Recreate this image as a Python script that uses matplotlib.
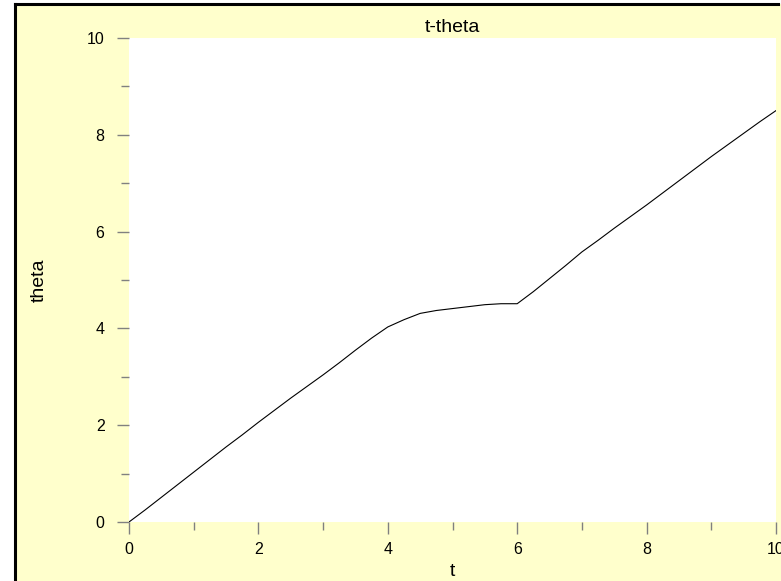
import matplotlib
matplotlib.use("Agg")
import matplotlib.pyplot as plt
from matplotlib.patches import Rectangle
from matplotlib.lines import Line2D
from matplotlib.ticker import MultipleLocator

plt.rcParams['font.family'] = ['Liberation Sans', 'DejaVu Sans']

# time samples and angle values
t = [0.0, 0.25, 0.5, 0.75, 1.0, 1.25, 1.5, 1.75, 2.0, 2.25, 2.5, 2.75, 3.0,
     3.25, 3.5, 3.75, 4.0, 4.25, 4.5, 4.75, 5.0, 5.25, 5.5, 5.75, 6.0,
     6.25, 6.5, 6.75, 7.0, 7.25, 7.5, 7.75, 8.0, 8.25, 8.5, 8.75, 9.0,
     9.25, 9.5, 9.75, 10.0]
theta = [0.0, 0.25, 0.51, 0.77, 1.03, 1.29, 1.55, 1.80, 2.06, 2.31, 2.56, 2.80, 3.04,
         3.29, 3.55, 3.80, 4.03, 4.18, 4.31, 4.37, 4.41, 4.45, 4.49, 4.51, 4.51,
         4.76, 5.03, 5.30, 5.58, 5.82, 6.07, 6.31, 6.55, 6.80, 7.05, 7.30, 7.55,
         7.79, 8.03, 8.27, 8.50]

title = "t-theta"
xlabel = "t"
ylabel = "theta"

W, H = 781, 581
fig = plt.figure(figsize=(W / 100, H / 100), dpi=100, facecolor='white')

# panel background and frame (drawn beneath the axes)
fig.patches.append(Rectangle((15 / W, 0), 1 - 15 / W, 1 - 4 / H, transform=fig.transFigure,
                             facecolor='#FFFFCC', edgecolor='none', zorder=-10))
fig.lines.append(Line2D([15 / W, 15 / W], [0, 1 - 4 / H], transform=fig.transFigure,
                        color='black', lw=2.2, zorder=-5))
fig.lines.append(Line2D([15 / W, 778 / W], [1 - 4 / H, 1 - 4 / H], transform=fig.transFigure,
                        color='black', lw=2.2, zorder=-5))

ax = fig.add_axes([129 / W, 1 - 522 / H, (776 - 129) / W, (522 - 38) / H])
ax.set_zorder(1)
ax.set_facecolor('white')
ax.plot(t, theta, color='black', lw=0.8)

ax.set_xlim(0, 10)
ax.set_ylim(0, 10)
for s in ax.spines.values():
    s.set_visible(False)

ax.xaxis.set_major_locator(MultipleLocator(2))
ax.xaxis.set_minor_locator(MultipleLocator(1))
ax.yaxis.set_major_locator(MultipleLocator(2))
ax.yaxis.set_minor_locator(MultipleLocator(1))
ax.tick_params(which='major', direction='out', length=8.6, width=1.0, color='#808080',
               labelsize=11.5, labelcolor='black')
ax.tick_params(axis='x', which='major', pad=6.0)
ax.tick_params(axis='y', which='major', pad=9.0)
ax.tick_params(which='minor', direction='out', length=5.8, width=1.0, color='#808080')

ax.set_title(title, fontsize=14, pad=4)
ax.set_xlabel(xlabel, fontsize=14)
ax.set_ylabel(ylabel, fontsize=14)
ax.xaxis.set_label_coords(0.5, -(571 - 522) / 484)
ax.xaxis.label.set_va('center')
ax.yaxis.set_label_coords(-(129 - 39) / 647, 0.5)
ax.yaxis.label.set_va('center')

fig.savefig("out.png", dpi=100, facecolor=fig.get_facecolor())
